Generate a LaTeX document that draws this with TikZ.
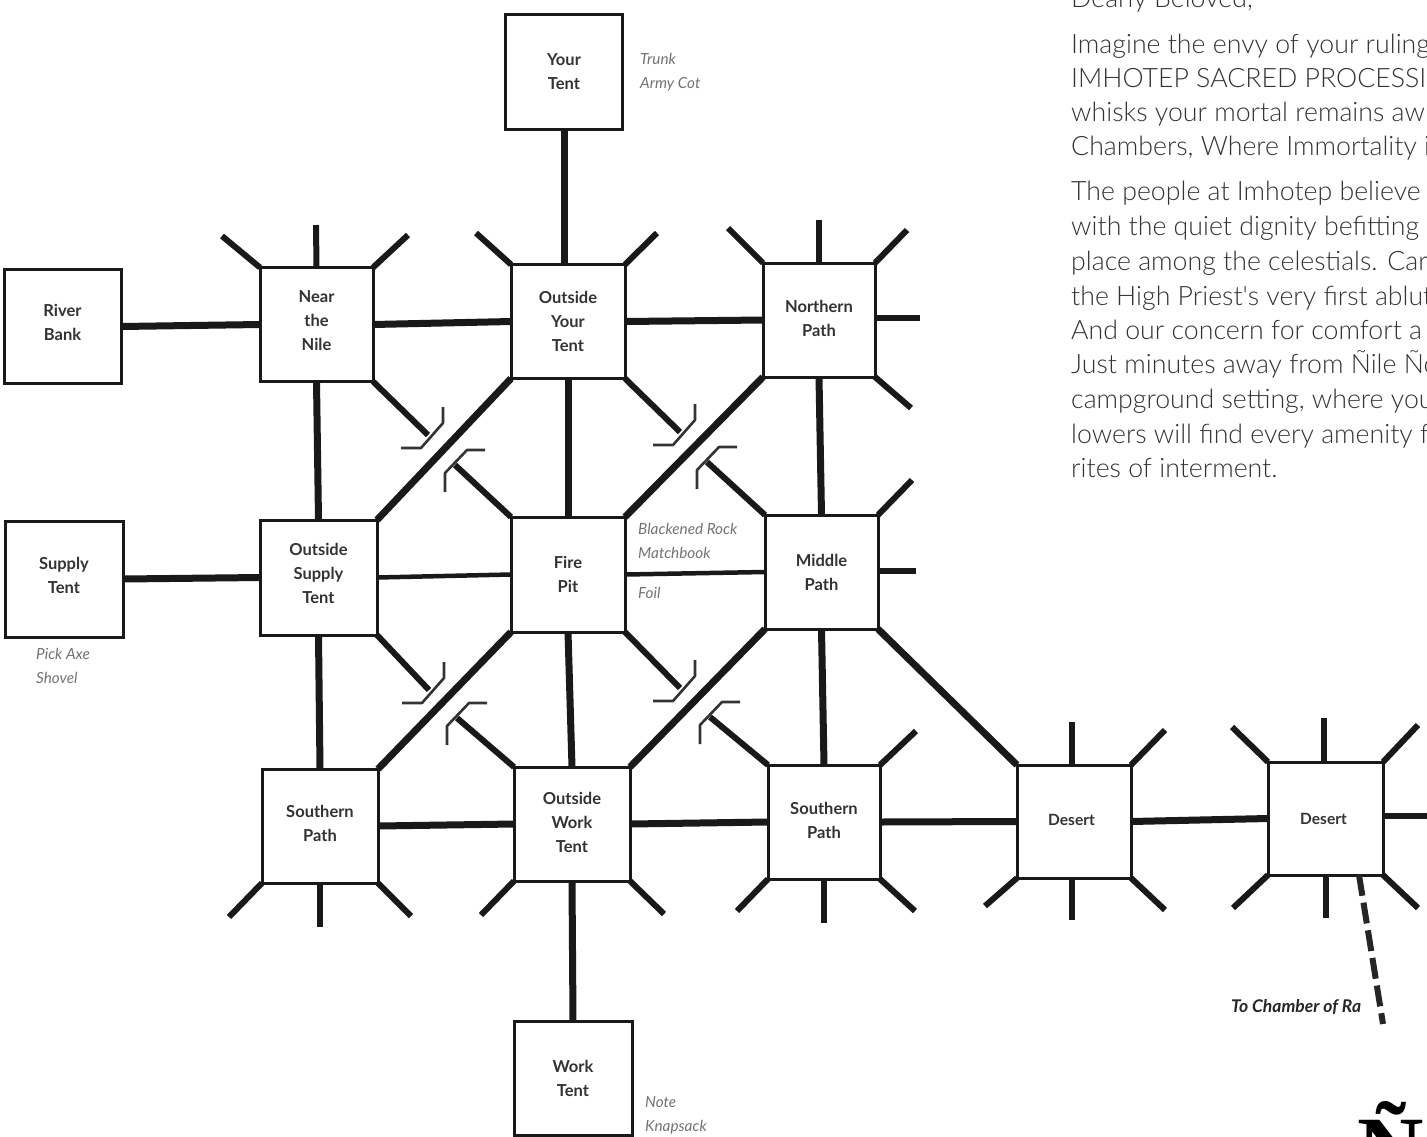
\documentclass[tikz,border=0pt]{standalone}
\usepackage{fontspec}
\setmainfont{Lato}
\newfontfamily\bodyfont{Lato Light}
\newfontfamily\serifbold{Liberation Serif}
\newcommand{\lowr}[1]{\rule[-#1]{0pt}{#1}}
\begin{document}
\begin{tikzpicture}[x=1pt,y=-1pt,
  room/.style={draw=black!90,line width=3pt,fill=white,inner sep=0pt,outer sep=0pt,
    minimum width=#1,minimum height=114pt,align=center,
    font=\fontsize{16.5}{24}\selectfont\bfseries,text=black!80},
  room/.default=114pt,
  road/.style={line width=7pt,black!90},
  thinroad/.style={line width=4.5pt,black!90},
  stub/.style={line width=6pt,black!90},
  hook/.style={line width=2.6pt,black!80,line join=round},
  note/.style={anchor=base west,inner sep=0pt,text=black!55,font=\fontsize{15.3}{18}\selectfont\itshape},
  bodyline/.style={anchor=base west,inner sep=0pt,text=black!80,font=\fontsize{26.7}{36}\selectfont\bodyfont}]
\path[use as bounding box,clip] (0,0) rectangle (1427,1136);
\fill[white] (0,0) rectangle (1427,1136);

% rooms
\node[room=117pt,minimum height=115pt] (yt) at (564,72) {Your\\Tent};
\node[room=117pt] (rb) at (62.5,326.5) {River\\Bank\lowr{8pt}};
\node[room=113pt] (nn) at (316.5,324.5) {Near\\the\\Nile\lowr{8pt}};
\node[room=114pt] (oy) at (568,321.5) {Outside\\Your\\Tent};
\node[room=112pt] (np) at (819,320) {Northern\\Path\lowr{4pt}};
\node[room=118pt,minimum height=116pt] (st) at (64,579) {Supply\\Tent\lowr{8pt}};
\node[room=117pt,minimum height=115pt] (os) at (318.5,577.5) {Outside\\Supply\\Tent\lowr{8pt}};
\node[room=114pt,minimum height=115pt] (fp) at (568,574.5) {Fire\\Pit};
\node[room=113pt] (mp) at (821.5,572) {Middle\\Path};
\node[room=116pt] (sl) at (320,826) {Southern\\Path\lowr{5pt}};
\node[room=116pt] (ow) at (572,824) {Outside\\Work\\Tent\lowr{4pt}};
\node[room=112pt] (sr) at (824,822) {Southern\\Path\lowr{4pt}};
\node[room=114pt,minimum height=113pt,font=\fontsize{15.5}{24}\selectfont\bfseries] (da) at (1074,821.5) {Desert\hspace*{5pt}\lowr{4pt}};
\node[room=115pt,minimum height=113pt,font=\fontsize{15.5}{24}\selectfont\bfseries] (db) at (1325.5,818.5) {Desert\hspace*{4pt}};
\node[room=118pt] (wt) at (573,1078) {Work\\Tent};

% connectors between rooms
\draw[road] (yt.south) -- (yt.south |- oy.north);
\draw[road] (rb.east) -- (nn.west);
\draw[road] (nn.east) -- (oy.west);
\draw[road] (oy.east) -- (np.west);
\draw[road] (st.east) -- (os.west);
\draw[thinroad] (os.east) -- (fp.west);
\draw[thinroad] (fp.east) -- (mp.west);
\draw[road] (sl.east) -- (ow.west);
\draw[road] (ow.east) -- (sr.west);
\draw[road] (sr.east) -- (da.west);
\draw[road] (da.east) -- (db.west);
\draw[road] (nn.south) -- (os.north);
\draw[road] (oy.south) -- (fp.north);
\draw[road] (np.south) -- (mp.north);
\draw[road] (os.south) -- (sl.north);
\draw[road] (fp.south) -- (ow.north);
\draw[road] (mp.south) -- (sr.north);
\draw[road] (ow.south) -- (wt.north);
\draw[road] (oy.south west) -- (os.north east);
\draw[road] (np.south west) -- (fp.north east);
\draw[road] (fp.south west) -- (sl.north east);
\draw[road] (mp.south west) -- (ow.north east);
\draw[road] (mp.south east) -- (da.north west);

% under-passes
\coordinate (ea) at (428,435);
\coordinate (eb) at (455,465);
\coordinate (ec) at (680,432);
\coordinate (ed) at (707,462);
\coordinate (ee) at (429,690);
\coordinate (ef) at (457,718);
\coordinate (eg) at (680,688);
\coordinate (eh) at (710,717);
\draw[stub] (nn.south east) -- (ea);
\draw[stub] (fp.north west) -- (eb);
\draw[stub] (oy.south east) -- (ec);
\draw[stub] (mp.north west) -- (ed);
\draw[stub] (os.south east) -- (ee);
\draw[stub] (ow.north west) -- (ef);
\draw[stub] (fp.south east) -- (eg);
\draw[stub] (sr.north west) -- (eh);
\foreach \e in {ea,ec,ee,eg}
  \draw[hook] ([shift={(15,-28)}]\e) -- ([shift={(15,-12)}]\e) -- ([shift={(-7,13)}]\e) -- ([shift={(-27,13)}]\e);
\foreach \e in {eb,ed,ef,eh}
  \draw[hook] ([shift={(30,-15)}]\e) -- ([shift={(12,-15)}]\e) -- ([shift={(-10,8)}]\e) -- ([shift={(-10,27)}]\e);

% free stubs
\coordinate (s1) at (222,236); \draw[stub] (nn.north west) -- (s1);
\coordinate (s2) at (316,225); \draw[stub] (nn.north) -- (s2);
\coordinate (s3) at (408,235); \draw[stub] (nn.north east) -- (s3);
\coordinate (s4) at (476,233); \draw[stub] (oy.north west) -- (s4);
\coordinate (s5) at (657,233); \draw[stub] (oy.north east) -- (s5);
\coordinate (s6) at (728,228); \draw[stub] (np.north west) -- (s6);
\coordinate (s7) at (819,220); \draw[stub] (np.north) -- (s7);
\coordinate (s8) at (907,230); \draw[stub] (np.north east) -- (s8);
\coordinate (s9) at (920,318); \draw[stub] (np.east |- s9) -- (s9);
\coordinate (s10) at (911,408); \draw[stub] (np.south east) -- (s10);
\coordinate (s11) at (912,480); \draw[stub] (mp.north east) -- (s11);
\coordinate (s12) at (916,571); \draw[stub] (mp.east |- s12) -- (s12);
\coordinate (s13) at (916,731); \draw[stub] (sr.north east) -- (s13);
\coordinate (s14) at (915,911); \draw[stub] (sr.south east) -- (s14);
\coordinate (s15) at (824,923); \draw[stub] (sr.south) -- (s15);
\coordinate (s16) at (737,911); \draw[stub] (sr.south west) -- (s16);
\coordinate (s17) at (481,915); \draw[stub] (ow.south west) -- (s17);
\coordinate (s18) at (664,914); \draw[stub] (ow.south east) -- (s18);
\coordinate (s19) at (229,917); \draw[stub] (sl.south west) -- (s19);
\coordinate (s20) at (320,927); \draw[stub] (sl.south) -- (s20);
\coordinate (s21) at (411,916); \draw[stub] (sl.south east) -- (s21);
\coordinate (s22) at (1072,722); \draw[stub] (s22 |- da.north) -- (s22);
\coordinate (s23) at (1165,730); \draw[stub] (da.north east) -- (s23);
\coordinate (s24) at (1165,910); \draw[stub] (da.south east) -- (s24);
\coordinate (s25) at (1072,920); \draw[stub] (s25 |- da.south) -- (s25);
\coordinate (s26) at (985,906); \draw[stub] (da.south west) -- (s26);
\coordinate (s27) at (1232,727); \draw[stub] (db.north west) -- (s27);
\coordinate (s28) at (1324,718); \draw[stub] (s28 |- db.north) -- (s28);
\coordinate (s29) at (1418,725); \draw[stub] (db.north east) -- (s29);
\coordinate (s30) at (1432,816); \draw[stub] (db.east |- s30) -- (s30);
\coordinate (s31) at (1418,908); \draw[stub] (db.south east) -- (s31);
\coordinate (s32) at (1326,918); \draw[stub] (s32 |- db.south) -- (s32);
\coordinate (s33) at (1233,908); \draw[stub] (db.south west) -- (s33);
\coordinate (dsh) at (1383,1024);
\coordinate (dst) at (1359,875);
\draw[line width=6pt,black!85,dash pattern=on 21pt off 7pt] (dst) -- (dsh);

% item notes
\node[note] (n1) at (640,64) {Trunk};
\node[note] (n2) at (640,88) {Army Cot};
\node[note] (n3) at (36,659) {Pick Axe};
\node[note] (n4) at (36,683) {Shovel};
\node[note] (n5) at (638,534) {Blackened Rock};
\node[note] (n6) at (638,558) {Matchbook};
\node[note] (n7) at (638,598) {Foil};
\node[note] (n8) at (645,1107) {Note};
\node[note] (n9) at (645,1131) {Knapsack};
\node[note,text=black!85,font=\fontsize{17.5}{18}\selectfont\bfseries\itshape] (n10) at (1231,1012) {To Chamber of Ra};

% letter text, running off the page
\node[bodyline] (b0) at (1071,7) {Dearly Beloved,};
\node[bodyline] (b1) at (1071,53) {Imagine the envy of your ruling};
\node[bodyline] (b2) at (1071,87) {IMHOTEP SACRED PROCESSI};
\node[bodyline] (b3) at (1071,121) {whisks your mortal remains aw};
\node[bodyline] (b4) at (1071,155) {Chambers, Where Immortality i};
\node[bodyline] (b5) at (1071,200) {The people at Imhotep believe};
\node[bodyline] (b6) at (1071,235) {with the quiet dignity befitting o};
\node[bodyline] (b7) at (1071,270) {place among the celestials. Car};
\node[bodyline] (b8) at (1071,305) {the High Priest's very first ablut};
\node[bodyline] (b9) at (1071,339) {And our concern for comfort a};
\node[bodyline] (b10) at (1071,373) {Just minutes away from Ñile Ño};
\node[bodyline] (b11) at (1071,408) {campground setting, where you};
\node[bodyline] (b12) at (1071,443) {lowers will find every amenity f};
\node[bodyline] (b13) at (1071,477) {rites of interment.};

% large letter at the page foot
\node[anchor=base,inner sep=0pt,font=\fontsize{92}{92}\selectfont\serifbold\bfseries] (logo) at (1391,1180) {Ñ};
\end{tikzpicture}
\end{document}
